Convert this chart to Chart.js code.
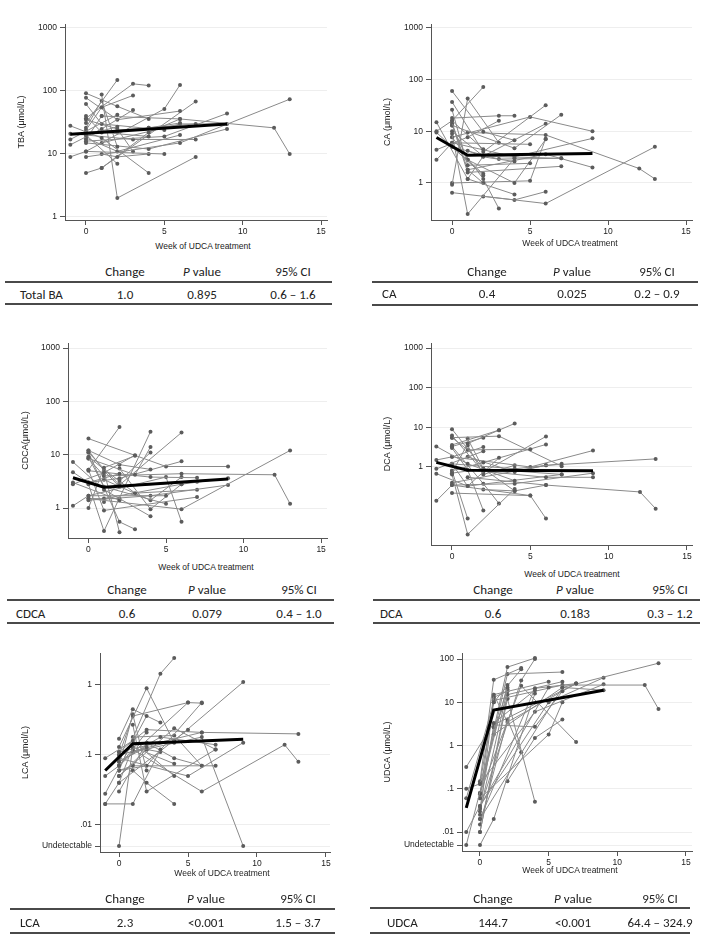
<!DOCTYPE html>
<html><head><meta charset="utf-8">
<script src="https://cdn.jsdelivr.net/npm/chart.js@4.4.1/dist/chart.umd.min.js"></script>
<style>
html,body{margin:0;padding:0;background:#fff;}
body{width:709px;height:937px;position:relative;overflow:hidden;font-family:"Liberation Sans",Arial,sans-serif;}
canvas{position:absolute;}
.t{position:absolute;transform:translate(-50%,-50%);white-space:nowrap;color:#222;}
.tl{position:absolute;transform:translate(0,-50%);white-space:nowrap;color:#222;}
.tab{font-family:Carlito,Lato,"Open Sans",sans-serif;font-size:13px;}
.xt{font-size:8.5px;color:#222;}
.ln{position:absolute;height:2px;background:#4a4a4a;}
</style>
</head><body>
<script>
// ---------- data ----------
const UND = 0.005; // plotted position of "Undetectable"
const xTickValues = [0, 5, 10, 15];
const decadeTicks = [1, 10, 100, 1000];
const decadeTickLabels = ['1', '10', '100', '1000'];
const lcaTicks = [UND, 0.01, 0.1, 1];
const lcaTickLabels = ['Undetectable', '.01', '.1', '1'];
const udcaTicks = [UND, 0.01, 0.1, 1, 10, 100];
const udcaTickLabels = ['Undetectable', '.01', '.1', '1', '10', '100'];
const yTitles = ['TBA (μmol/L)', 'CA (μmol/L)', 'CDCA(μmol/L)', 'DCA (μmol/L)', 'LCA (μmol/L)', 'UDCA (μmol/L)'];
const xTitle = 'Week of UDCA treatment';

const patientWeeks = [
  [-1,1,4],[-1,0,2],[-1,2],[-1,1,3],[-1,0,5],[0,1,3],[0,2,4],[0,2,6],[0,1,5],[0,3,4],
  [0,2],[0,1,2],[0,4,7],[0,2,6],[0,1,4],[0,6,13],[1,6,12,13],[0,5,9],[0,4,9],[1,2,4],
  [0,3,7],[1,4,6],[0,5,6],[1,6,9],[0,1,7],[2,4,6],[0,2,3],[1,2,7],[0,2],[0,1]
];
const tbaValues = [
  [28,18,5],[21,20,27],[17,42],[14,25,50],[9,11,10],[24,55,85],[92,57,36],[78,35,48],[62,30,24],[37,130,122],
  [31,150],[26,70,13],[22,26,30],[18,11,20],[40,22,19],[9,15,74],[40,36,26,10],[16,19,44],[15,12,25],[10,9,10],
  [20,17,17],[6,22,36],[11,52,125],[15,30,30],[5,6,68],[22,26,31],[35,25,11],[88,2,9],[20,7],[17,40]
];
const caValues = [
  [15,1.2,0.6],[10,16,4.5],[9.5,1.4],[4.4,7.7,16],[2.8,6,5.6],[0.92,43,6],[60,9.8,6.7],[37,4,32],[26,2.2,2.4],[18,20,20],
  [16,72],[15,1.8,1.0],[13,4.7,21],[10,3.3,14],[9,0.25,3],[0.65,0.4,5.0],[9.5,8.5,1.9,1.2],[7.7,19,10],[6,3.2,7.3],[4.2,3.2,2.6],
  [5,2.9,3],[2.8,1.0,7],[1.0,1.1,7.2],[1.8,3.6,2.0],[14,1.6,2.1],[0.55,0.47,0.68],[7.7,1.2,0.32],[1.2,3.3,3.0],[5,1.5],[13,2.8]
];
const cdcaValues = [
  [7.3,2.2,0.7],[4.7,3,4.4],[3.0,1.4],[2.8,4.6,9.8],[1.1,1.7,1.7],[1.0,5.7,9.5],[12,6.5,5.3],[11,2.7,26],[9,2.5,1.2],[8.5,4.2,14],
  [5.2,33],[12,5,0.35],[5,3.8,3.7],[3,3.6,7.5],[2.8,0.37,27],[1.5,0.95,12],[4,4.4,4.2,1.2],[20,6,6],[1.4,1.7,2.7],[1.3,3.2,11],
  [9,1.9,2.2],[3.4,1.4,3.8],[1.7,3.8,0.55],[1.5,2.8,3.6],[5.2,0.9,1.6],[5.5,0.95,2.8],[11,0.55,0.4],[5,2.5,3.1],[1.5,1.5],[8.5,4]
];
const dcaValues = [
  [3.3,1.2,0.45],[1.5,1.8,3.2],[0.9,2.5],[0.68,0.33,1.7],[0.14,0.35,0.19],[0.7,3.9,8.5],[9,0.9,0.25],[6.2,0.75,5.9],[5.5,2.7,2.8],[3.6,8.5,12.5],
  [3.3,5.5],[3.0,0.85,0.08],[1.2,0.9,1.2],[0.8,1.3,3.7],[0.65,0.02,0.28],[0.4,1.1,1.6],[0.55,0.35,0.235,0.089],[1.8,1.0,2.6],[0.35,0.38,0.7],[3.5,0.65,1.1],
  [5.5,6,1.05],[1.8,0.75,1.1],[0.22,0.19,0.05],[0.85,0.55,0.55],[1.2,0.33,0.65],[0.27,0.25,0.35],[3.3,0.38,0.12],[5.2,0.9,0.65],[0.7,0.9],[0.8,0.05]
];
const lcaValues = [
  [0.09,0.16,0.05],[0.05,0.07,0.21],[0.028,0.36],[0.02,0.02,0.12],[0.02,0.04,0.23],[0.17,0.45,0.29],[0.13,0.9,0.15],[0.11,0.23,0.21],[0.1,0.36,0.56],[0.06,1.45,2.43],
  [0.08,0.13],[0.07,0.38,0.06],[0.05,0.24,0.12],[0.06,0.07,0.56],[UND,0.13,0.075],[0.11,0.21,0.2],[0.12,0.03,0.14,0.08],[0.09,0.05,0.15],[0.1,0.16,1.1],[0.06,0.04,0.02],
  [0.08,0.18,0.14],[0.18,0.19,0.07],[0.07,0.56,0.55],[0.11,0.18,UND],[0.06,0.07,0.07],[0.15,0.09,0.07],[0.05,0.12,0.11],[0.27,0.03,0.12],[0.03,0.15],[0.04,0.13]
];
const udcaValues = [
  [0.32,3.3,19],[0.1,0.13,22],[UND,25],[0.06,10,58],[0.01,0.04,22],[0.15,33,62],[0.08,65,105],[0.075,45,50],[0.06,15,30],[0.035,32,100],
  [0.03,20],[0.025,13,18],[0.02,21,27],[0.01,15,30],[UND,0.02,16],[0.02,22,80],[11,25,25,7],[0.04,10,37],[0.13,6,26],[2.6,12,0.05],
  [0.08,24,1.2],[3,2.7,18],[0.06,1.8,10],[1.8,22,19],[0.035,3,27],[0.15,1.5,4],[0.015,4,0.7],[15,3.5,27],[0.01,12],[0.13,10]
];
const meanWeeks = [-1, 1, 9];
const tbaMean = [20.5, 22.1, 30];
const caMean = [7.6, 3.45, 3.7];
const cdcaMean = [3.7, 2.45, 3.5];
const dcaMean = [1.31, 0.83, 0.81];
const lcaMean = [0.06, 0.145, 0.168];
const udcaMean = [0.036, 6.6, 19];

const statNames = ['Total BA', 'CA', 'CDCA', 'DCA', 'LCA', 'UDCA'];
const statChange = ['1.0', '0.4', '0.6', '0.6', '2.3', '144.7'];
const statP = ['0.895', '0.025', '0.079', '0.183', '<0.001', '<0.001'];
const statCI = ['0.6 – 1.6', '0.2 – 0.9', '0.4 – 1.0', '0.3 – 1.2', '1.5 – 3.7', '64.4 – 324.9'];

// ---------- layout ----------
const FONT = '"Liberation Sans", Arial, sans-serif';
const panels = [
  {values: tbaValues, mean: tbaMean, ticks: decadeTicks, labels: decadeTickLabels,
   L:65, R:327, T:24, B:220, tx:21, yMin:0.896, yMax:1157, xMin:-1.34, xMax:15.38, xt:[203,246]},
  {values: caValues, mean: caMean, ticks: decadeTicks, labels: decadeTickLabels,
   L:431, R:692, T:24, B:220, tx:387, yMin:0.192, yMax:1194, xMin:-1.35, xMax:15.38, xt:[570,243]},
  {values: cdcaValues, mean: cdcaMean, ticks: decadeTicks, labels: decadeTickLabels,
   L:68, R:327, T:343, B:538, tx:25, yMin:0.274, yMax:1241, xMin:-1.32, xMax:15.38, xt:[206,567]},
  {values: dcaValues, mean: dcaMean, ticks: decadeTicks, labels: decadeTickLabels,
   L:431, R:692, T:343, B:545, tx:387, yMin:0.0108, yMax:1337, xMin:-1.34, xMax:15.32, xt:[572,574]},
  {values: lcaValues, mean: lcaMean, ticks: lcaTicks, labels: lcaTickLabels,
   L:100, R:330, T:653, B:852, tx:25, yMin:0.00411, yMax:2.86, xMin:-1.377, xMax:15.29, xt:[222,873]},
  {values: udcaValues, mean: udcaMean, ticks: udcaTicks, labels: udcaTickLabels,
   L:462, R:692, T:653, B:851, tx:387, yMin:0.00364, yMax:137.8, xMin:-1.31, xMax:15.44, xt:[570,870]}
];
const tables = [
  {hy:271, l1:282, ry:294, l2:304, x1:5, x2:332, lx:20, cols:[125,202,293]},
  {hy:271, l1:282, ry:293, l2:305, x1:372, x2:698, lx:382, cols:[487,572,657]},
  {hy:589, l1:600, ry:613, l2:623, x1:7, x2:334, lx:16, cols:[127,207,299]},
  {hy:589, l1:600, ry:613, l2:623, x1:373, x2:700, lx:380, cols:[493,575,670]},
  {hy:898, l1:909, ry:922, l2:933, x1:10, x2:335, lx:20, cols:[125,206,298]},
  {hy:898, l1:908, ry:922, l2:933, x1:370, x2:690, lx:387, cols:[493,573,660]}
];

function addDiv(cls, html, x, y) {
  const d = document.createElement('div');
  d.className = cls; d.innerHTML = html;
  d.style.left = x + 'px'; d.style.top = y + 'px';
  document.body.appendChild(d);
  return d;
}

panels.forEach((p, k) => {
  const H = 20;
  const cl = p.tx - 5, ct = p.T - 8;
  const cw = p.R + 6 - cl, ch = p.B + H - ct;
  const cv = document.createElement('canvas');
  cv.width = cw; cv.height = ch;
  cv.style.left = cl + 'px'; cv.style.top = ct + 'px';
  cv.style.width = cw + 'px'; cv.style.height = ch + 'px';
  document.body.appendChild(cv);
  const yW = p.L - cl;
  const datasets = [{
    data: meanWeeks.map((w, j) => ({x: w, y: p.mean[j]})),
    borderColor: '#000', borderWidth: 3, pointRadius: 0, order: 0, tension: 0
  }];
  patientWeeks.forEach((wk, i) => {
    datasets.push({
      data: wk.map((w, j) => ({x: w, y: p.values[i][j]})),
      borderColor: '#8a8a8a', borderWidth: 1, pointRadius: 2, pointBorderWidth: 0,
      pointBackgroundColor: '#5c5c5c', order: 1, tension: 0
    });
  });
  new Chart(cv.getContext('2d'), {
    type: 'line',
    data: {datasets},
    options: {
      responsive: false, animation: false, events: [],
      layout: {padding: {left: 0, top: 8, right: 6, bottom: 0}},
      plugins: {legend: {display: false}, tooltip: {enabled: false}},
      scales: {
        x: {
          type: 'linear', position: 'bottom', min: p.xMin, max: p.xMax,
          afterBuildTicks: a => { a.ticks = xTickValues.map(v => ({value: v})); },
          ticks: {autoSkip: false, maxRotation: 0, padding: 2, color: '#222',
                  font: {family: FONT, size: 8.5}, callback: v => String(v)},
          grid: {drawOnChartArea: false, drawTicks: true, tickLength: 5, tickColor: '#555'},
          border: {display: true, color: '#555', width: 1},
          afterFit: a => { a.height = H; a.paddingLeft = 0; a.paddingRight = 0; }
        },
        y: {
          type: 'logarithmic', position: 'left', min: p.yMin, max: p.yMax,
          afterBuildTicks: a => { a.ticks = p.ticks.map(v => ({value: v})); },
          ticks: {autoSkip: false, padding: 3, color: '#222',
                  font: {family: FONT, size: 8.5}, callback: (v, i) => p.labels[i]},
          grid: {color: '#eeeeee', lineWidth: 1, drawTicks: true, tickLength: 5, tickColor: '#555'},
          border: {display: true, color: '#555', width: 1},
          title: {display: true, text: yTitles[k], color: '#222', padding: 0,
                  font: {family: FONT, size: 9}},
          afterFit: a => { a.width = yW; a.paddingTop = 0; a.paddingBottom = 0; }
        }
      }
    }
  });
  addDiv('t xt', xTitle, p.xt[0], p.xt[1]);
});

tables.forEach((t, k) => {
  addDiv('t tab', 'Change', t.cols[0], t.hy);
  addDiv('t tab', '<i>P</i> value', t.cols[1], t.hy);
  addDiv('t tab', '95% CI', t.cols[2], t.hy);
  addDiv('tl tab', statNames[k], t.lx, t.ry);
  addDiv('t tab', statChange[k], t.cols[0], t.ry);
  addDiv('t tab', statP[k].replace('<', '&lt;'), t.cols[1], t.ry);
  addDiv('t tab', statCI[k], t.cols[2], t.ry);
  [t.l1, t.l2].forEach(y => {
    const d = document.createElement('div');
    d.className = 'ln';
    d.style.left = t.x1 + 'px'; d.style.width = (t.x2 - t.x1) + 'px'; d.style.top = (y - 1) + 'px';
    document.body.appendChild(d);
  });
});
</script>
</body></html>
